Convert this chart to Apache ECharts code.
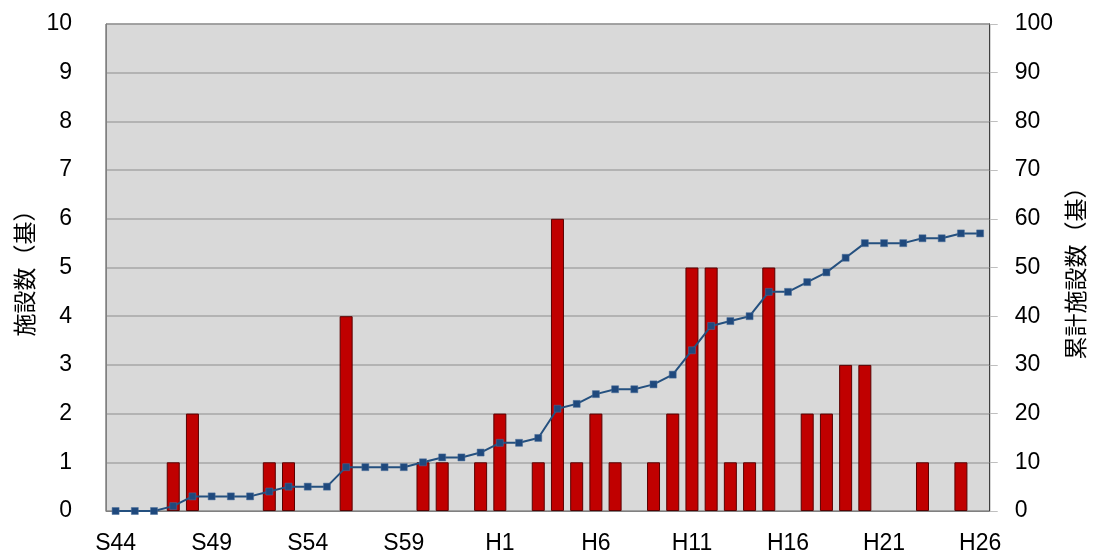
<!DOCTYPE html>
<html><head><meta charset="utf-8">
<script src="https://cdn.jsdelivr.net/npm/echarts@6/dist/echarts.min.js"></script>
<style>html,body{margin:0;padding:0;background:#fff}#c{width:1095px;height:555px}</style>
</head><body><div id="c"></div>
<script>
const categories = ["S44","S45","S46","S47","S48","S49","S50","S51","S52","S53","S54","S55","S56","S57","S58","S59","S60","S61","S62","S63",
"H1","H2","H3","H4","H5","H6","H7","H8","H9","H10","H11","H12","H13","H14","H15","H16","H17","H18","H19","H20","H21","H22","H23","H24","H25","H26"];
const facilities = [0,0,0,1,2,0,0,0,1,1,0,0,4,0,0,0,1,1,0,1,
2,0,1,6,1,2,1,0,1,2,5,5,1,1,5,0,2,2,3,3,0,0,1,0,1,0];
const cumulative = [0,0,0,1,3,3,3,3,4,5,5,5,9,9,9,9,10,11,11,12,
14,14,15,21,22,24,25,25,26,28,33,38,39,40,45,45,47,49,52,55,55,55,56,56,57,57];
const leftName = "施設数（基）";
const rightName = "累計施設数（基）";

const chart = echarts.init(document.getElementById('c'));
const numFont = {fontFamily:'Liberation Sans, Arial, sans-serif', fontSize:23, color:'#000'};
const nameFont = {fontFamily:'Noto Sans CJK JP',fontSize:23,color:'#000'};
chart.setOption({
  animation:false,
  grid:{left:106,right:103,top:24,bottom:44,show:true,backgroundColor:'#D9D9D9',borderColor:'#404040',borderWidth:1},
  xAxis:{type:'category',data:categories,
    axisLine:{lineStyle:{color:'#808080'}},axisTick:{show:false},
    axisLabel:Object.assign({interval:4,margin:21},numFont)},
  yAxis:[
    {type:'value',min:0,max:10,interval:1,position:'left',
     name:leftName,nameLocation:'middle',nameGap:70,nameRotate:90,
     nameTextStyle:nameFont,
     axisLine:{show:true,lineStyle:{color:'#808080'}},axisTick:{show:false},
     splitLine:{lineStyle:{color:'#A6A6A6',width:1.5}},
     axisLabel:Object.assign({margin:34},numFont)},
    {type:'value',min:0,max:100,interval:10,position:'right',
     name:rightName,nameLocation:'middle',nameGap:72,nameRotate:90,
     nameTextStyle:Object.assign({padding:[0,0,20,0]},nameFont),
     axisLine:{show:true,lineStyle:{color:'#404040'}},axisTick:{show:true,length:8,lineStyle:{color:'#BFBFBF'}},
     splitLine:{show:false},
     axisLabel:Object.assign({margin:25},numFont)}
  ],
  series:[
    {type:'bar',data:facilities.map(v => v === 0 ? '-' : v),yAxisIndex:0,barWidth:13,
     itemStyle:{color:'#C00000',borderColor:'#5a0000',borderWidth:1}},
    {type:'line',data:cumulative,yAxisIndex:1,symbol:'rect',symbolSize:7,
     lineStyle:{color:'#24507F',width:2},itemStyle:{color:'#1F497D',borderColor:'#4A6F9A',borderWidth:0.5}}
  ]
});
</script></body></html>
